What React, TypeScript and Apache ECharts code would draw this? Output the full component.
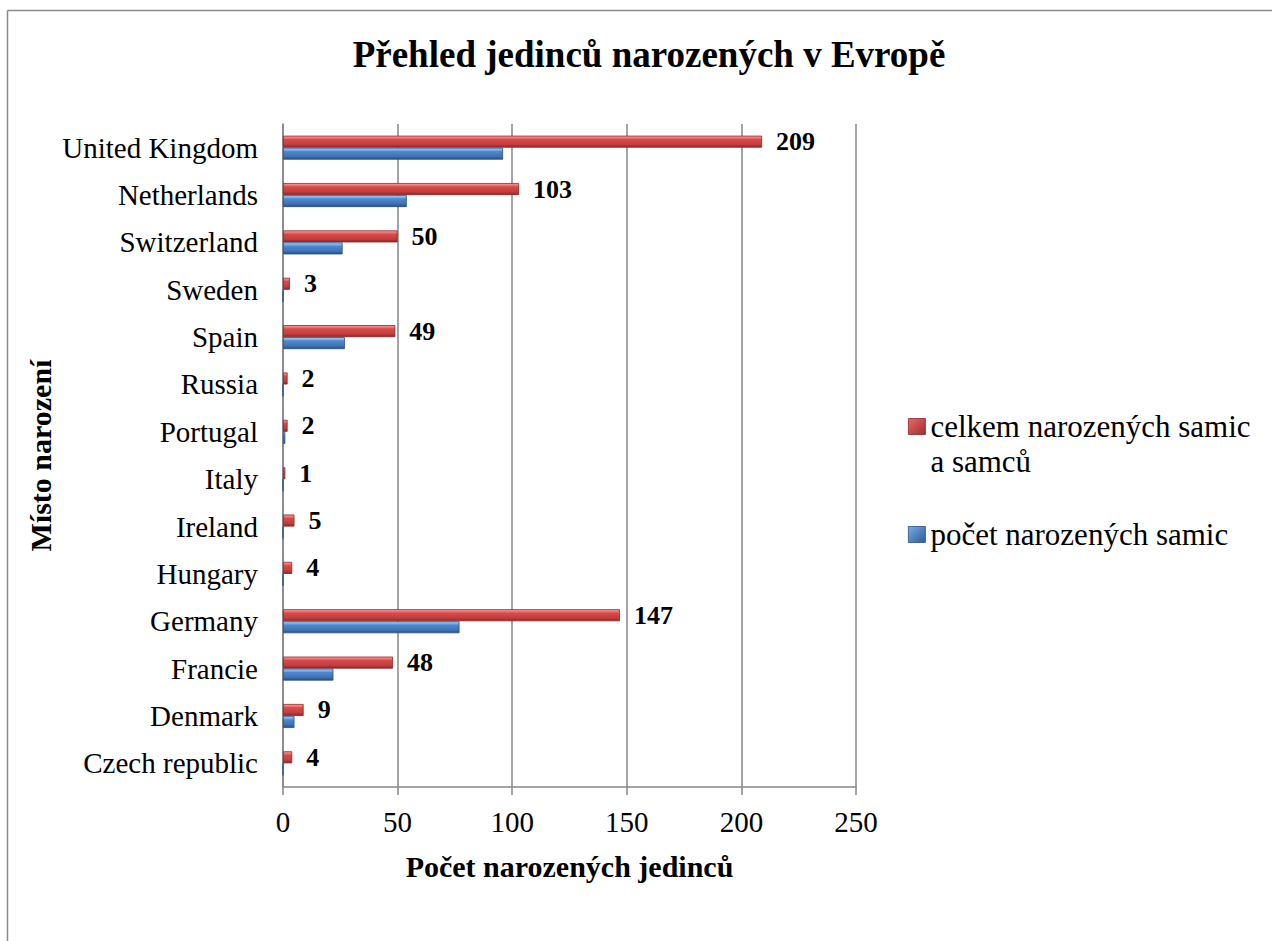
import React, { useEffect, useRef } from "react";
import * as echarts from "echarts";

const categories = [
  "Czech republic",
  "Denmark",
  "Francie",
  "Germany",
  "Hungary",
  "Ireland",
  "Italy",
  "Portugal",
  "Russia",
  "Spain",
  "Sweden",
  "Switzerland",
  "Netherlands",
  "United Kingdom",
];
const totalValues = [4, 9, 48, 147, 4, 5, 1, 2, 2, 49, 3, 50, 103, 209];
const femaleValues = [0, 5, 22, 77, 0, 0, 0, 1, 0, 27, 0, 26, 54, 96];
const xTicks = [0, 50, 100, 150, 200, 250];

const seriesNames = ["celkem narozených samic a samců", "počet narozených samic"];

const FONT = "'Liberation Serif', 'Times New Roman', serif";

const redFill = new echarts.graphic.LinearGradient(0, 0, 0, 1, [
  { offset: 0, color: "#f5a3a3" },
  { offset: 0.22, color: "#ea6464" },
  { offset: 0.3, color: "#d84a4a" },
  { offset: 0.75, color: "#c43d3d" },
  { offset: 1, color: "#8e2424" },
]);
const blueFill = new echarts.graphic.LinearGradient(0, 0, 0, 1, [
  { offset: 0, color: "#a6d0f7" },
  { offset: 0.22, color: "#6aa6e6" },
  { offset: 0.3, color: "#4f88cf" },
  { offset: 0.75, color: "#3f72b4" },
  { offset: 1, color: "#264d85" },
]);
const redIcon = new echarts.graphic.LinearGradient(0, 0, 1, 1, [
  { offset: 0, color: "#e86a6a" },
  { offset: 1, color: "#a02c2c" },
]);
const blueIcon = new echarts.graphic.LinearGradient(0, 0, 1, 1, [
  { offset: 0, color: "#78aee8" },
  { offset: 1, color: "#2c5a98" },
]);

export default function App() {
  const ref = useRef<HTMLDivElement>(null);
  useEffect(() => {
    if (!ref.current) return;
    const chart = echarts.init(ref.current, null, { renderer: "svg" });
    chart.setOption({
      animation: false,
      backgroundColor: "#ffffff",
      title: {
        text: "Přehled jedinců narozených v Evropě",
        left: 644,
        textAlign: "center",
        top: 31,
        textStyle: {
          fontFamily: FONT,
          fontSize: 37,
          fontWeight: "bold",
          color: "#000",
        },
      },
      graphic: [
        {
          type: "line",
          shape: { x1: 7.5, y1: 10.5, x2: 1272, y2: 10.5 },
          style: { stroke: "#8a8a8a", lineWidth: 1.5 },
          silent: true,
        },
        {
          type: "line",
          shape: { x1: 7.5, y1: 10.5, x2: 7.5, y2: 941 },
          style: { stroke: "#8a8a8a", lineWidth: 1.5 },
          silent: true,
        },
      ],
      legend: {
        orient: "vertical",
        left: 903,
        top: 369,
        icon: "rect",
        itemWidth: 17,
        itemHeight: 16,
        itemGap: 38,
        data: [
          {
            name: seriesNames[0],
            itemStyle: { color: redIcon, borderColor: "#8c2626", borderWidth: 0.8 },
          },
          {
            name: seriesNames[1],
            itemStyle: { color: blueIcon, borderColor: "#2a5088", borderWidth: 0.8 },
          },
        ],
        formatter: (name: string) =>
          name === seriesNames[0] ? "\ncelkem narozených samic\na samců" : name,
        textStyle: {
          fontFamily: FONT,
          fontSize: 31,
          lineHeight: 35,
          color: "#000",
        },
      },
      grid: {
        left: 283,
        right: 416,
        top: 124,
        bottom: 154,
        containLabel: false,
      },
      xAxis: {
        type: "value",
        min: 0,
        max: 250,
        interval: 50,
        name: "Počet narozených jedinců",
        nameLocation: "middle",
        nameGap: 64,
        nameTextStyle: {
          fontFamily: FONT,
          fontSize: 30,
          fontWeight: "bold",
          color: "#000",
        },
        axisLine: { show: true, lineStyle: { color: "#868686", width: 1.5 } },
        axisTick: { show: true, length: 8, lineStyle: { color: "#868686", width: 1.5 } },
        axisLabel: {
          margin: 20,
          fontFamily: FONT,
          fontSize: 29,
          color: "#000",
          formatter: (v: number) => (xTicks.includes(v) ? String(v) : ""),
        },
        splitLine: { show: true, lineStyle: { color: "#868686", width: 1.5 } },
      },
      yAxis: {
        type: "category",
        data: categories,
        name: "Místo narození",
        nameLocation: "middle",
        nameGap: 228,
        nameRotate: 90,
        nameTextStyle: {
          fontFamily: FONT,
          fontSize: 30,
          fontWeight: "bold",
          color: "#000",
        },
        axisLine: { show: true, lineStyle: { color: "#868686", width: 1.5 } },
        axisTick: { show: false },
        axisLabel: {
          margin: 25,
          fontFamily: FONT,
          fontSize: 29,
          color: "#000",
        },
        splitLine: { show: false },
      },
      series: [
        {
          name: seriesNames[0],
          type: "bar",
          data: totalValues,
          barWidth: 12,
          barGap: "0%",
          itemStyle: { color: redFill, borderColor: "#8c2626", borderWidth: 0.8 },
          label: {
            show: true,
            position: "right",
            distance: 14,
            fontFamily: FONT,
            fontSize: 26,
            fontWeight: "bold",
            color: "#000",
          },
        },
        {
          name: seriesNames[1],
          type: "bar",
          data: femaleValues,
          barWidth: 12,
          barGap: "0%",
          itemStyle: { color: blueFill, borderColor: "#2a5088", borderWidth: 0.8 },
          label: { show: false },
        },
      ],
    });
    return () => chart.dispose();
  }, []);
  return (
    <div
      ref={ref}
      style={{ position: "fixed", left: 0, top: 0, width: 1272, height: 941 }}
    />
  );
}
